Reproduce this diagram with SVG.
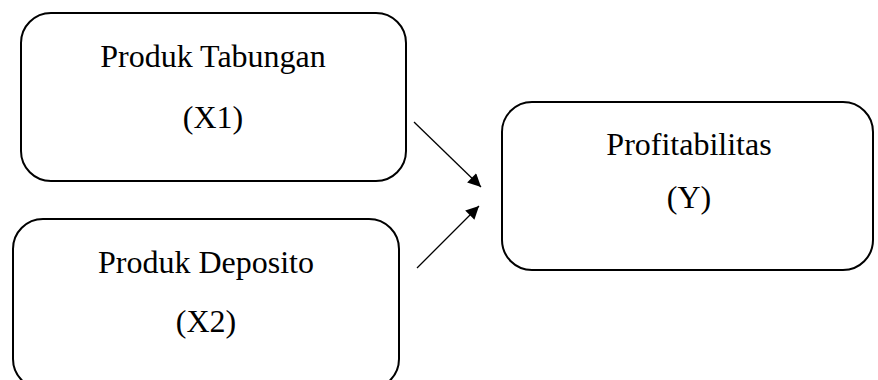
<svg xmlns="http://www.w3.org/2000/svg" width="878" height="380" viewBox="0 0 878 380">
<style>
.box{fill:#fff;stroke:#000;stroke-width:2}
.t{font-family:"Liberation Serif","Times New Roman",serif;font-size:32px;fill:#000;text-anchor:middle}
.c{stroke:#000;stroke-width:1.3;fill:none}
</style>
<defs>
<marker id="ah" viewBox="0 0 10 10" refX="10" refY="5" markerUnits="userSpaceOnUse" markerWidth="17" markerHeight="13" orient="auto">
<path d="M0,0 L10,5 L0,10 Z" fill="#000"/>
</marker>
</defs>
<rect width="878" height="380" fill="#fff"/>
<g id="x1">
<rect class="box" x="21" y="13" width="385" height="168" rx="30" ry="30"/>
<text class="t" x="213" y="67">Produk Tabungan</text>
<text class="t" x="213" y="128">(X1)</text>
</g>
<g id="x2">
<rect class="box" x="13" y="219" width="386" height="170" rx="30" ry="30"/>
<text class="t" x="206" y="273">Produk Deposito</text>
<text class="t" x="206" y="332">(X2)</text>
</g>
<g id="y">
<rect class="box" x="502" y="102" width="371" height="168" rx="30" ry="30"/>
<text class="t" x="689" y="155">Profitabilitas</text>
<text class="t" x="689" y="208">(Y)</text>
</g>
<g id="connectors">
<line class="c" x1="414" y1="122" x2="481" y2="187" marker-end="url(#ah)"/>
<line class="c" x1="417" y1="268" x2="479" y2="206" marker-end="url(#ah)"/>
</g>
</svg>
